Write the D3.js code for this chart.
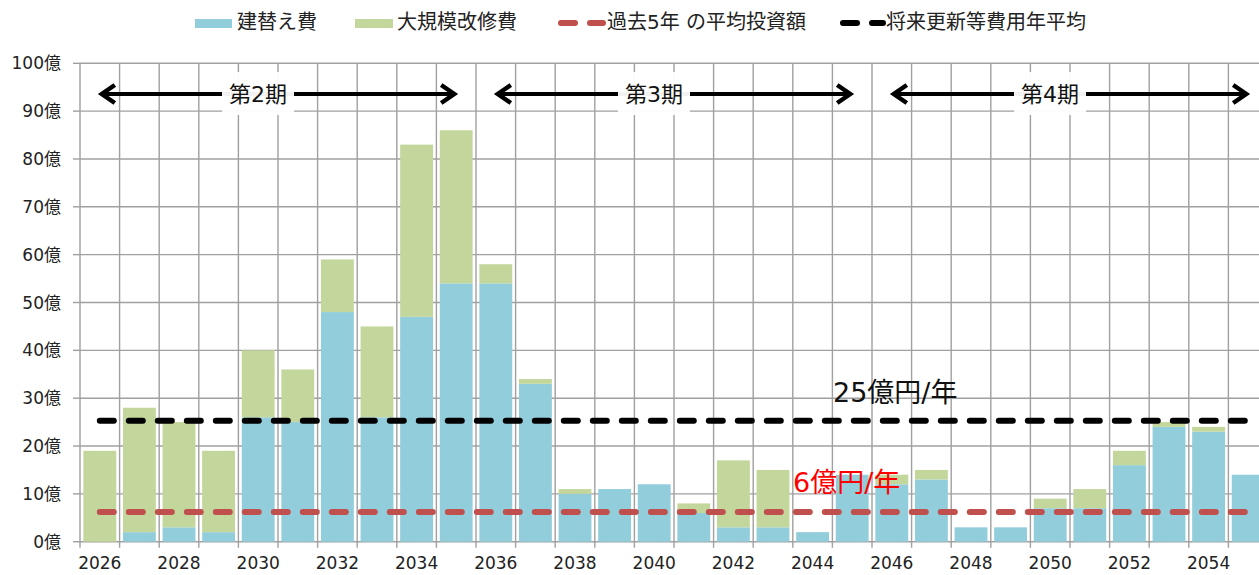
<!DOCTYPE html>
<html><head><meta charset="utf-8">
<script src="https://cdn.jsdelivr.net/npm/d3@7"></script>
<style>
html,body{margin:0;padding:0;background:#fff;}
svg{display:block;}
text{font-family:"DejaVu Sans","Noto Sans CJK JP",sans-serif;fill:#222;}
</style></head>
<body>
<svg id="chart" width="1259" height="575"></svg>
<script>
const years = [2026,2027,2028,2029,2030,2031,2032,2033,2034,2035,2036,2037,2038,2039,2040,2041,2042,2043,2044,2045,2046,2047,2048,2049,2050,2051,2052,2053,2054,2055];
const replaceCost = [0,2,3,2,26,25,48,26,47,54,54,33,10,11,12,6,3,3,2,14,12,13,3,3,7,7,16,24,23,14];
const renovCost   = [19,26,22,17,14,11,11,19,36,32,4,1,1,0,0,2,14,12,0,0,2,2,0,0,2,4,3,1,1,0];
const yTicks = [0,10,20,30,40,50,60,70,80,90,100];
const xLabelYears = [2026,2028,2030,2032,2034,2036,2038,2040,2042,2044,2046,2048,2050,2052,2054];
const pastAvg = 6.2;
const futureAvg = 25.3;
const periodLabels = ["第2期","第3期","第4期"];
const periodStart = [2026,2036,2046];
const periodEnd = [2035,2045,2055];
const seriesNames = ["建替え費","大規模改修費","過去5年 の平均投資額","将来更新等費用年平均"];
const colors = {replace:"#92CDDC", renov:"#C3D69B", past:"#C0504D", future:"#000000", grid:"#a0a0a0"};

const svg = d3.select("#chart");
const x = d3.scaleBand().domain(years).range([80, 1268]).paddingInner(0).paddingOuter(0);
const y = d3.scaleLinear().domain([0,100]).range([541.7, 63.3]);
const bw = x.bandwidth();
const barW = bw * 0.83;

// grid
const g = svg.append("g");
g.selectAll("line.h").data(yTicks).join("line")
  .attr("x1", 80).attr("x2", 1268).attr("y1", d=>y(d)).attr("y2", d=>y(d))
  .attr("stroke", colors.grid).attr("stroke-width", 1.4);
const bounds = years.map(d=>x(d)).concat([x(years[years.length-1])+bw]);
g.selectAll("line.v").data(bounds).join("line")
  .attr("x1", d=>d).attr("x2", d=>d).attr("y1", y(100)).attr("y2", y(0)+6)
  .attr("stroke", colors.grid).attr("stroke-width", 1.4);
// y ticks
g.selectAll("line.yt").data(yTicks).join("line")
  .attr("x1", 73).attr("x2", 80).attr("y1", d=>y(d)).attr("y2", d=>y(d))
  .attr("stroke", colors.grid).attr("stroke-width", 1.4);

// bars
const data = years.map((yr,i)=>({yr, a:replaceCost[i], b:renovCost[i]}));
svg.append("g").selectAll("rect").data(data).join("rect")
  .attr("x", d=>x(d.yr)+(bw-barW)/2).attr("width", barW)
  .attr("y", d=>y(d.a)).attr("height", d=>y(0)-y(d.a))
  .attr("fill", colors.replace);
svg.append("g").selectAll("rect").data(data.filter(d=>d.b>0)).join("rect")
  .attr("x", d=>x(d.yr)+(bw-barW)/2).attr("width", barW)
  .attr("y", d=>y(d.a+d.b)).attr("height", d=>y(d.a)-y(d.a+d.b))
  .attr("fill", colors.renov);

// axis labels
svg.append("g").selectAll("text").data(yTicks).join("text")
  .attr("x", 61).attr("y", d=>y(d)+6).attr("text-anchor","end")
  .attr("font-size", 17).text(d=>d+"億");
svg.append("g").selectAll("text").data(xLabelYears).join("text")
  .attr("x", d=>x(d)+bw/2).attr("y", 569).attr("text-anchor","middle")
  .attr("font-size", 17).text(d=>d);

// average lines
const xFirst = x(years[0])+bw/2, xLast = x(years[years.length-1])+bw/2;
svg.append("line").attr("x1", xFirst).attr("x2", xLast)
  .attr("y1", y(pastAvg)).attr("y2", y(pastAvg))
  .attr("stroke", colors.past).attr("stroke-width", 6).attr("stroke-linecap","round")
  .attr("stroke-dasharray","14 15");
svg.append("line").attr("x1", xFirst).attr("x2", xLast)
  .attr("y1", y(futureAvg)).attr("y2", y(futureAvg))
  .attr("stroke", colors.future).attr("stroke-width", 6).attr("stroke-linecap","round")
  .attr("stroke-dasharray","14 15");

svg.append("text").attr("x", 833).attr("y", 402).attr("font-size", 27)
  .style("fill","#111").text("25億円/年");
svg.append("text").attr("x", 793).attr("y", 492).attr("font-size", 27)
  .style("fill","#FF0000").text("6億円/年");

// period arrows
const ay = 94;
periodLabels.forEach((lab,i)=>{
  const x1 = x(periodStart[i])+bw/2, x2 = x(periodEnd[i])+bw/2;
  const pg = svg.append("g");
  pg.append("line").attr("x1", x1+2).attr("x2", x2-2).attr("y1", ay).attr("y2", ay)
    .attr("stroke","#000").attr("stroke-width",4);
  pg.append("path").attr("d", `M${x1+15},${ay-9}L${x1+2},${ay}L${x1+15},${ay+9}`)
    .attr("fill","none").attr("stroke","#000").attr("stroke-width",4.5).attr("stroke-linejoin","miter");
  pg.append("path").attr("d", `M${x2-15},${ay-9}L${x2-2},${ay}L${x2-15},${ay+9}`)
    .attr("fill","none").attr("stroke","#000").attr("stroke-width",4.5).attr("stroke-linejoin","miter");
  const cx = (x1+x2)/2 - 20;
  pg.append("rect").attr("x", cx-36).attr("y", 72).attr("width", 72).attr("height", 43)
    .attr("fill","#fff").attr("fill-opacity",0.95);
  pg.append("text").attr("x", cx).attr("y", ay+8).attr("text-anchor","middle")
    .attr("font-size", 22).style("fill","#111").text(lab);
});

// legend
const lg = svg.append("g");
lg.append("rect").attr("x",195).attr("y",19).attr("width",37).attr("height",9).attr("fill",colors.replace);
lg.append("text").attr("x",237).attr("y",29).attr("font-size",20).text(seriesNames[0]);
lg.append("rect").attr("x",355).attr("y",19).attr("width",38).attr("height",9).attr("fill",colors.renov);
lg.append("text").attr("x",397).attr("y",29).attr("font-size",20).text(seriesNames[1]);
lg.append("line").attr("x1",561).attr("x2",603).attr("y1",23).attr("y2",23)
  .attr("stroke",colors.past).attr("stroke-width",6).attr("stroke-linecap","round").attr("stroke-dasharray","14 15");
lg.append("text").attr("x",607).attr("y",29).attr("font-size",20).text(seriesNames[2]);
lg.append("line").attr("x1",843).attr("x2",883).attr("y1",23).attr("y2",23)
  .attr("stroke",colors.future).attr("stroke-width",6).attr("stroke-linecap","round").attr("stroke-dasharray","14 15");
lg.append("text").attr("x",886).attr("y",29).attr("font-size",20).text(seriesNames[3]);
</script>
</body></html>
